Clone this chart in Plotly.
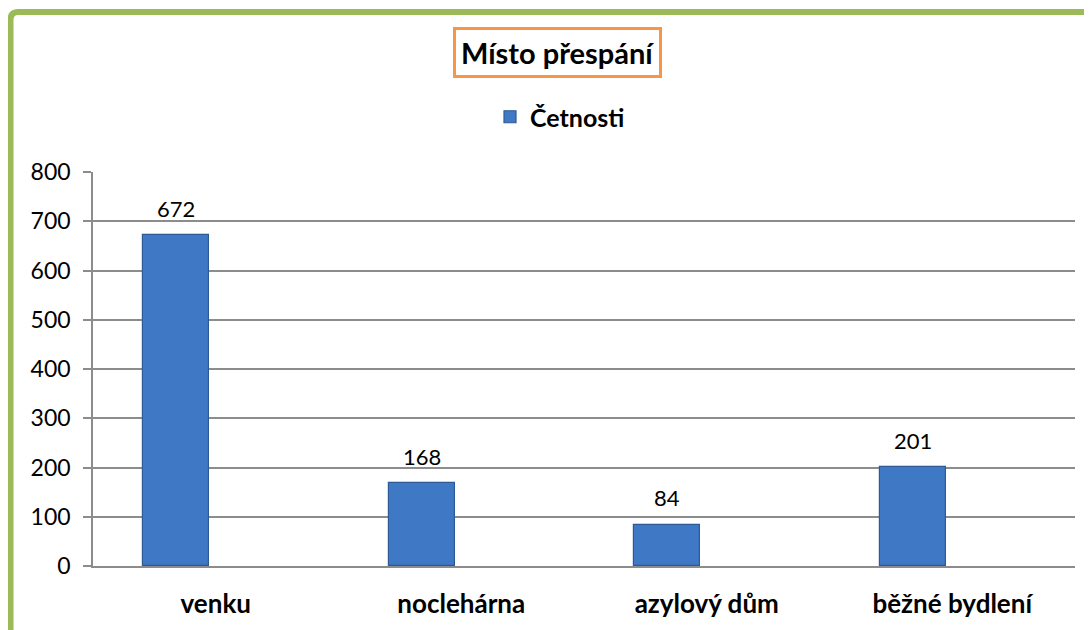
import plotly.graph_objects as go

categories = ["venku", "noclehárna", "azylový dům", "běžné bydlení"]
values = [672, 168, 84, 201]
series_name = "Četnosti"
title_text = "Místo přespání"
y_ticks = [0, 100, 200, 300, 400, 500, 600, 700, 800]

FONT = "Lato, Noto Sans, sans-serif"

# page has an 8px body margin -> offset target pixel coords
OFF = 8
L, R, T, B = 93 - OFF, 1075 - OFF, 172 - OFF, 566 - OFF
W, H = 1092, 630

def px(x):
    return (x - OFF - L) / (R - L)

def py(y):
    return (B - (y - OFF)) / (B - T)

BAR_W = 0.27
BAR_OFF = -0.296
cat_px = (R - L) / len(categories)
center_shift = (BAR_OFF + BAR_W / 2) * cat_px

fig = go.Figure()
fig.add_trace(go.Bar(
    x=categories,
    y=values,
    name=series_name,
    width=BAR_W,
    offset=BAR_OFF,
    marker=dict(color="#3f79c6", line=dict(color="#2d5a94", width=1.2)),
    cliponaxis=False,
))

annotations = []
for c, v in zip(categories, values):
    annotations.append(dict(
        x=c, y=v, xref="x", yref="y", text=str(v), showarrow=False,
        xanchor="center", yanchor="middle", xshift=center_shift, yshift=27,
        font=dict(family=FONT, size=22, color="#000000"),
    ))

annotations.append(dict(
    text=f"<b>{title_text}</b>", xref="paper", yref="paper",
    x=px(557.5), y=py(52.5), xanchor="center", yanchor="middle", showarrow=False,
    font=dict(family=FONT, size=29, color="#000000"),
    bordercolor="#f79646", borderwidth=3, borderpad=5, bgcolor="white",
))

# green outer border (partial frame)
x0, y0 = px(10.5), py(12)
fig.add_shape(type="path", xref="paper", yref="paper",
              path=f"M {x0},{py(700)} L {x0},{py(20)} Q {x0},{y0} {px(18)},{y0} L {px(1120)},{y0}",
              line=dict(color="#9bbb59", width=6))

fig.update_layout(
    width=W, height=H,
    margin=dict(l=L, r=W - R, t=T, b=H - B),
    paper_bgcolor="white", plot_bgcolor="white",
    showlegend=True,
    legend=dict(orientation="h", x=px(560), y=py(117), xanchor="center", yanchor="middle",
                font=dict(family=FONT, size=25, color="#000000", weight="bold"),
                itemwidth=30, bgcolor="rgba(0,0,0,0)"),
    bargap=0,
    annotations=annotations,
)

fig.update_yaxes(
    range=[0, 800], tickvals=y_ticks,
    showgrid=True, gridcolor="#8c8c8c", gridwidth=1.5,
    showline=True, linecolor="#8c8c8c", linewidth=1.5,
    ticks="outside", ticklen=8, tickcolor="#8c8c8c", tickwidth=1.5,
    tickfont=dict(family=FONT, size=23, color="#000000"),
    ticklabelstandoff=8, zeroline=False,
)
fig.update_xaxes(
    showline=True, linecolor="#8c8c8c", linewidth=1.5,
    ticks="", showgrid=False,
    tickfont=dict(family=FONT, size=26, color="#000000", weight="bold"),
    ticklabelstandoff=14,
)

fig.write_html("out.html")
